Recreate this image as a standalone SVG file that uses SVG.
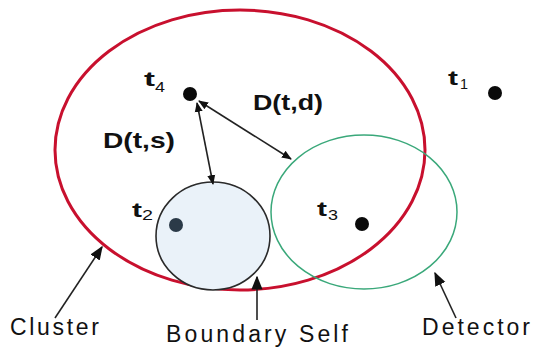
<svg xmlns="http://www.w3.org/2000/svg" width="533" height="349" viewBox="0 0 533 349">
<defs>
<marker id="ah" viewBox="0 0 10 10" refX="9" refY="5" markerWidth="10" markerHeight="10" markerUnits="userSpaceOnUse" orient="auto-start-reverse">
<path d="M0,1 L10,5 L0,9 Z" fill="#111"/>
</marker>
<marker id="ahb" viewBox="0 0 10 10" refX="9" refY="5" markerWidth="14" markerHeight="14" markerUnits="userSpaceOnUse" orient="auto">
<path d="M0,1 L10,5 L0,9 Z" fill="#111"/>
</marker>
</defs>
<style>
.t{font-family:"Liberation Sans",Arial,sans-serif;font-weight:bold;font-size:21px;fill:#111}
.sub{font-family:"Liberation Sans",Arial,sans-serif;font-size:14px;fill:#111}
.lbl{font-family:"Liberation Sans",Arial,sans-serif;font-weight:bold;font-size:22px;fill:#111}
.cap{font-family:"Liberation Sans",Arial,sans-serif;font-size:23px;fill:#111}
.dot{fill:#0a0a0a}
.conn{stroke:#222;stroke-width:1.6;fill:none}
</style>
<rect width="533" height="349" fill="#fff"/>
<g id="cluster">
<ellipse cx="240" cy="150" rx="185" ry="140" fill="none" stroke="#c8102e" stroke-width="3"/>
</g>
<g id="boundary-self">
<ellipse cx="213" cy="236" rx="57" ry="54" fill="#eaf2f9" stroke="#2a2a2a" stroke-width="1.6"/>
</g>
<g id="detector">
<ellipse cx="364" cy="212" rx="93" ry="77" fill="none" stroke="#3aa87a" stroke-width="1.5"/>
</g>
<g id="t4">
<circle class="dot" cx="190" cy="94" r="7"/>
<text class="t" x="144" y="86" textLength="11" lengthAdjust="spacingAndGlyphs">t</text>
<text class="sub" x="155" y="92" textLength="10" lengthAdjust="spacingAndGlyphs">4</text>
</g>
<g id="t1">
<circle class="dot" cx="495" cy="93" r="7"/>
<text class="t" x="448" y="85" textLength="10" lengthAdjust="spacingAndGlyphs">t</text>
<text class="sub" x="460" y="89" textLength="8" lengthAdjust="spacingAndGlyphs">1</text>
</g>
<g id="t2">
<circle cx="176" cy="225" r="7" fill="#2b3a48"/>
<text class="t" x="132" y="217" textLength="10" lengthAdjust="spacingAndGlyphs">t</text>
<text class="sub" x="142" y="220" textLength="11" lengthAdjust="spacingAndGlyphs">2</text>
</g>
<g id="t3">
<circle class="dot" cx="362" cy="224" r="7"/>
<text class="t" x="317" y="216" textLength="10" lengthAdjust="spacingAndGlyphs">t</text>
<text class="sub" x="328" y="220" textLength="10" lengthAdjust="spacingAndGlyphs">3</text>
</g>
<g id="labels">
<text class="lbl" x="253" y="110" textLength="70" lengthAdjust="spacingAndGlyphs">D(t,d)</text>
<text class="lbl" x="103" y="148" textLength="72" lengthAdjust="spacingAndGlyphs">D(t,s)</text>
<text class="cap" x="10" y="335" textLength="89" lengthAdjust="spacing">Cluster</text>
<text class="cap" x="166" y="342" textLength="182" lengthAdjust="spacing">Boundary Self</text>
<text class="cap" x="422" y="335" textLength="108" lengthAdjust="spacing">Detector</text>
</g>
<g id="connectors">
<line class="conn" x1="197" y1="103" x2="213" y2="184" marker-start="url(#ah)" marker-end="url(#ah)"/>
<line class="conn" x1="199" y1="101" x2="291" y2="159" marker-start="url(#ah)" marker-end="url(#ah)"/>
<line class="conn" x1="55" y1="318" x2="102" y2="247" marker-end="url(#ahb)"/>
<line class="conn" x1="257" y1="320" x2="257" y2="277" stroke-width="2.5" marker-end="url(#ahb)"/>
<line class="conn" x1="456" y1="318" x2="435" y2="273" marker-end="url(#ahb)"/>
</g>
</svg>
